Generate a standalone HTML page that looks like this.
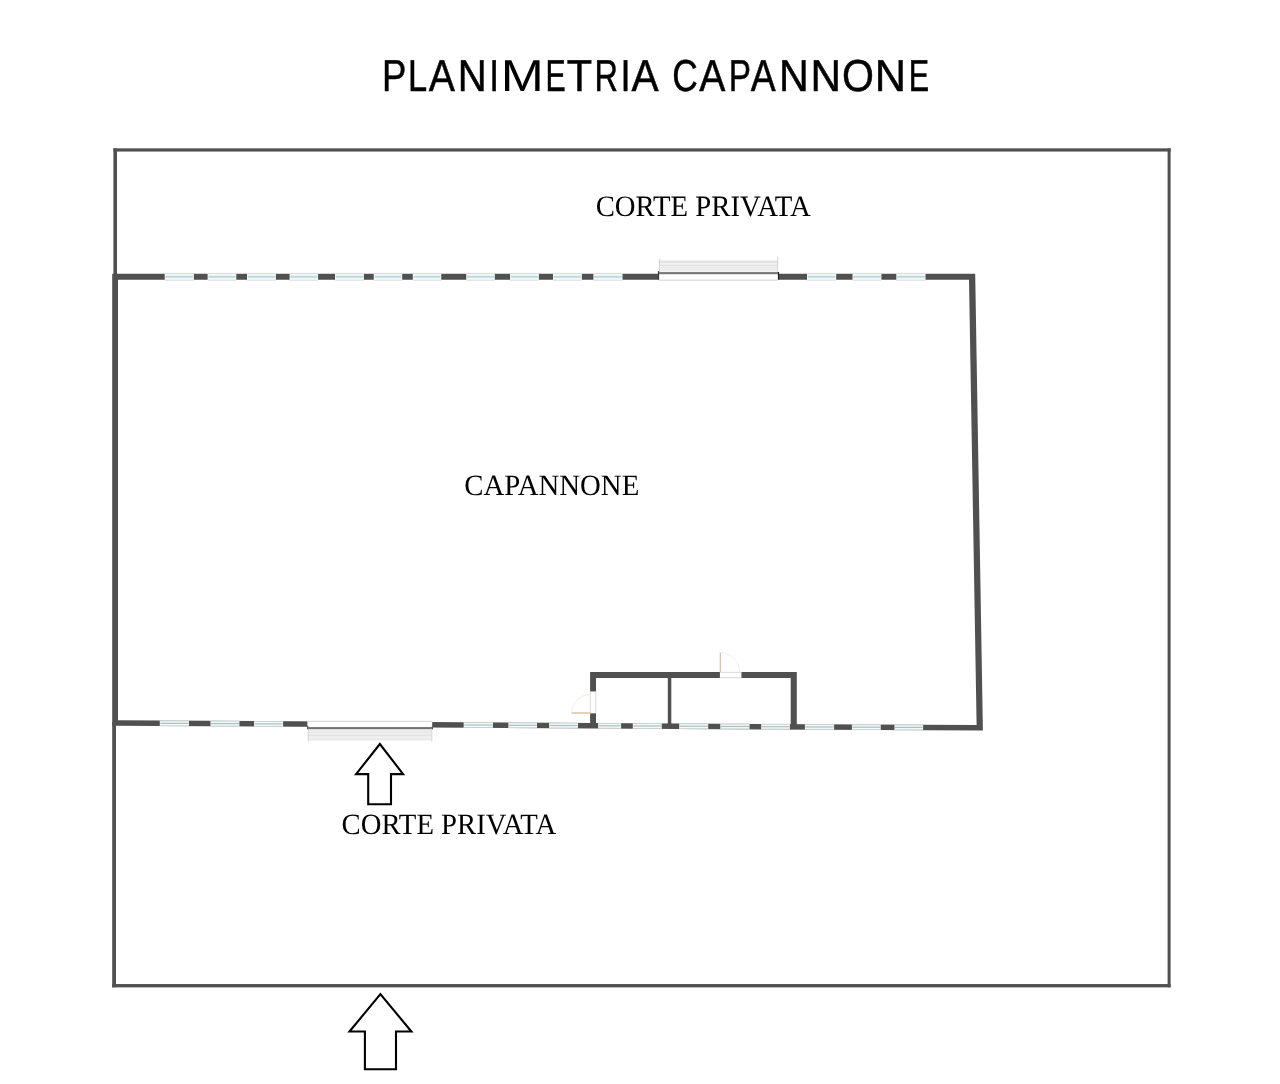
<!DOCTYPE html>
<html><head><meta charset="utf-8"><title>Planimetria Capannone</title>
<style>
html,body{margin:0;padding:0;background:#ffffff;}
body{width:1280px;height:1084px;overflow:hidden;font-family:"Liberation Sans",sans-serif;}
svg{display:block;position:absolute;left:0;top:0;}
text{text-rendering:geometricPrecision;}
svg{will-change:transform;}
</style></head>
<body>
<svg width="1280" height="1084" viewBox="0 0 1280 1084">
<rect x="113.4" y="148.35" width="1057.3" height="3.2" fill="#505050"/>
<rect x="1167.6" y="148.35" width="3.0" height="839" fill="#505050"/>
<rect x="112.2" y="984.05" width="1058.5" height="3.3" fill="#505050"/>
<rect x="113.4" y="148.35" width="3.6" height="127" fill="#505050"/>
<rect x="112.2" y="722" width="3.8" height="265.3" fill="#505050"/>
<path d="M112.2,273.7 L975.2,273.7 L982.9,730.6 L112.2,725.8 Z M118.0,279.8 L969.0,279.8 L976.6,725.1 L118.0,720.2 Z" fill="#505050" fill-rule="evenodd"/>
<rect x="164.70" y="272.90" width="29.20" height="7.70" fill="#f1fafa"/>
<rect x="164.70" y="272.90" width="29.20" height="0.85" fill="#d6d8d8"/>
<rect x="164.70" y="279.75" width="29.20" height="0.85" fill="#d8dada"/>
<rect x="165.50" y="275.85" width="27.60" height="1.9" fill="#c3d6d8"/>
<rect x="207.60" y="272.90" width="28.70" height="7.70" fill="#f1fafa"/>
<rect x="207.60" y="272.90" width="28.70" height="0.85" fill="#d6d8d8"/>
<rect x="207.60" y="279.75" width="28.70" height="0.85" fill="#d8dada"/>
<rect x="208.40" y="275.85" width="27.10" height="1.9" fill="#c3d6d8"/>
<rect x="247.00" y="272.90" width="28.90" height="7.70" fill="#f1fafa"/>
<rect x="247.00" y="272.90" width="28.90" height="0.85" fill="#d6d8d8"/>
<rect x="247.00" y="279.75" width="28.90" height="0.85" fill="#d8dada"/>
<rect x="247.80" y="275.85" width="27.30" height="1.9" fill="#c3d6d8"/>
<rect x="289.60" y="272.90" width="28.50" height="7.70" fill="#f1fafa"/>
<rect x="289.60" y="272.90" width="28.50" height="0.85" fill="#d6d8d8"/>
<rect x="289.60" y="279.75" width="28.50" height="0.85" fill="#d8dada"/>
<rect x="290.40" y="275.85" width="26.90" height="1.9" fill="#c3d6d8"/>
<rect x="335.00" y="272.90" width="28.90" height="7.70" fill="#f1fafa"/>
<rect x="335.00" y="272.90" width="28.90" height="0.85" fill="#d6d8d8"/>
<rect x="335.00" y="279.75" width="28.90" height="0.85" fill="#d8dada"/>
<rect x="335.80" y="275.85" width="27.30" height="1.9" fill="#c3d6d8"/>
<rect x="373.75" y="272.90" width="28.45" height="7.70" fill="#f1fafa"/>
<rect x="373.75" y="272.90" width="28.45" height="0.85" fill="#d6d8d8"/>
<rect x="373.75" y="279.75" width="28.45" height="0.85" fill="#d8dada"/>
<rect x="374.55" y="275.85" width="26.85" height="1.9" fill="#c3d6d8"/>
<rect x="412.80" y="272.90" width="28.45" height="7.70" fill="#f1fafa"/>
<rect x="412.80" y="272.90" width="28.45" height="0.85" fill="#d6d8d8"/>
<rect x="412.80" y="279.75" width="28.45" height="0.85" fill="#d8dada"/>
<rect x="413.60" y="275.85" width="26.85" height="1.9" fill="#c3d6d8"/>
<rect x="466.25" y="272.90" width="28.55" height="7.70" fill="#f1fafa"/>
<rect x="466.25" y="272.90" width="28.55" height="0.85" fill="#d6d8d8"/>
<rect x="466.25" y="279.75" width="28.55" height="0.85" fill="#d8dada"/>
<rect x="467.05" y="275.85" width="26.95" height="1.9" fill="#c3d6d8"/>
<rect x="510.00" y="272.90" width="28.90" height="7.70" fill="#f1fafa"/>
<rect x="510.00" y="272.90" width="28.90" height="0.85" fill="#d6d8d8"/>
<rect x="510.00" y="279.75" width="28.90" height="0.85" fill="#d8dada"/>
<rect x="510.80" y="275.85" width="27.30" height="1.9" fill="#c3d6d8"/>
<rect x="553.00" y="272.90" width="28.90" height="7.70" fill="#f1fafa"/>
<rect x="553.00" y="272.90" width="28.90" height="0.85" fill="#d6d8d8"/>
<rect x="553.00" y="279.75" width="28.90" height="0.85" fill="#d8dada"/>
<rect x="553.80" y="275.85" width="27.30" height="1.9" fill="#c3d6d8"/>
<rect x="593.40" y="272.90" width="29.10" height="7.70" fill="#f1fafa"/>
<rect x="593.40" y="272.90" width="29.10" height="0.85" fill="#d6d8d8"/>
<rect x="593.40" y="279.75" width="29.10" height="0.85" fill="#d8dada"/>
<rect x="594.20" y="275.85" width="27.50" height="1.9" fill="#c3d6d8"/>
<rect x="807.00" y="272.90" width="29.20" height="7.70" fill="#f1fafa"/>
<rect x="807.00" y="272.90" width="29.20" height="0.85" fill="#d6d8d8"/>
<rect x="807.00" y="279.75" width="29.20" height="0.85" fill="#d8dada"/>
<rect x="807.80" y="275.85" width="27.60" height="1.9" fill="#c3d6d8"/>
<rect x="852.50" y="272.90" width="28.90" height="7.70" fill="#f1fafa"/>
<rect x="852.50" y="272.90" width="28.90" height="0.85" fill="#d6d8d8"/>
<rect x="852.50" y="279.75" width="28.90" height="0.85" fill="#d8dada"/>
<rect x="853.30" y="275.85" width="27.30" height="1.9" fill="#c3d6d8"/>
<rect x="896.30" y="272.90" width="29.20" height="7.70" fill="#f1fafa"/>
<rect x="896.30" y="272.90" width="29.20" height="0.85" fill="#d6d8d8"/>
<rect x="896.30" y="279.75" width="29.20" height="0.85" fill="#d8dada"/>
<rect x="897.10" y="275.85" width="27.60" height="1.9" fill="#c3d6d8"/>
<rect x="159.80" y="720.45" width="29.20" height="5.79" fill="#f2fbfb"/>
<rect x="159.80" y="720.45" width="29.20" height="0.9" fill="#c9cdcd"/>
<rect x="159.80" y="725.34" width="29.20" height="0.9" fill="#c9cdcd"/>
<rect x="160.30" y="722.75" width="28.20" height="1.2" fill="#a9bfc2"/>
<rect x="210.50" y="720.73" width="28.90" height="5.79" fill="#f2fbfb"/>
<rect x="210.50" y="720.73" width="28.90" height="0.9" fill="#c9cdcd"/>
<rect x="210.50" y="725.62" width="28.90" height="0.9" fill="#c9cdcd"/>
<rect x="211.00" y="723.03" width="27.90" height="1.2" fill="#a9bfc2"/>
<rect x="254.00" y="720.98" width="29.10" height="5.78" fill="#f2fbfb"/>
<rect x="254.00" y="720.98" width="29.10" height="0.9" fill="#c9cdcd"/>
<rect x="254.00" y="725.86" width="29.10" height="0.9" fill="#c9cdcd"/>
<rect x="254.50" y="723.27" width="28.10" height="1.2" fill="#a9bfc2"/>
<rect x="463.70" y="722.16" width="29.20" height="5.76" fill="#f2fbfb"/>
<rect x="463.70" y="722.16" width="29.20" height="0.9" fill="#c9cdcd"/>
<rect x="463.70" y="727.02" width="29.20" height="0.9" fill="#c9cdcd"/>
<rect x="464.20" y="724.44" width="28.20" height="1.2" fill="#a9bfc2"/>
<rect x="508.40" y="722.41" width="28.60" height="5.75" fill="#f2fbfb"/>
<rect x="508.40" y="722.41" width="28.60" height="0.9" fill="#c9cdcd"/>
<rect x="508.40" y="727.26" width="28.60" height="0.9" fill="#c9cdcd"/>
<rect x="508.90" y="724.69" width="27.60" height="1.2" fill="#a9bfc2"/>
<rect x="549.10" y="722.64" width="28.90" height="5.75" fill="#f2fbfb"/>
<rect x="549.10" y="722.64" width="28.90" height="0.9" fill="#c9cdcd"/>
<rect x="549.10" y="727.49" width="28.90" height="0.9" fill="#c9cdcd"/>
<rect x="549.60" y="724.91" width="27.90" height="1.2" fill="#a9bfc2"/>
<rect x="598.10" y="722.90" width="23.00" height="5.74" fill="#f2fbfb"/>
<rect x="598.10" y="722.90" width="23.00" height="0.9" fill="#c9cdcd"/>
<rect x="598.10" y="727.74" width="23.00" height="0.9" fill="#c9cdcd"/>
<rect x="598.60" y="725.17" width="22.00" height="1.2" fill="#a9bfc2"/>
<rect x="632.80" y="723.11" width="29.00" height="5.74" fill="#f2fbfb"/>
<rect x="632.80" y="723.11" width="29.00" height="0.9" fill="#c9cdcd"/>
<rect x="632.80" y="727.95" width="29.00" height="0.9" fill="#c9cdcd"/>
<rect x="633.30" y="725.38" width="28.00" height="1.2" fill="#a9bfc2"/>
<rect x="679.20" y="723.37" width="29.00" height="5.73" fill="#f2fbfb"/>
<rect x="679.20" y="723.37" width="29.00" height="0.9" fill="#c9cdcd"/>
<rect x="679.20" y="728.21" width="29.00" height="0.9" fill="#c9cdcd"/>
<rect x="679.70" y="725.64" width="28.00" height="1.2" fill="#a9bfc2"/>
<rect x="720.30" y="723.60" width="29.20" height="5.73" fill="#f2fbfb"/>
<rect x="720.30" y="723.60" width="29.20" height="0.9" fill="#c9cdcd"/>
<rect x="720.30" y="728.43" width="29.20" height="0.9" fill="#c9cdcd"/>
<rect x="720.80" y="725.87" width="28.20" height="1.2" fill="#a9bfc2"/>
<rect x="761.20" y="723.83" width="28.70" height="5.72" fill="#f2fbfb"/>
<rect x="761.20" y="723.83" width="28.70" height="0.9" fill="#c9cdcd"/>
<rect x="761.20" y="728.66" width="28.70" height="0.9" fill="#c9cdcd"/>
<rect x="761.70" y="726.10" width="27.70" height="1.2" fill="#a9bfc2"/>
<rect x="804.90" y="724.08" width="29.20" height="5.72" fill="#f2fbfb"/>
<rect x="804.90" y="724.08" width="29.20" height="0.9" fill="#c9cdcd"/>
<rect x="804.90" y="728.90" width="29.20" height="0.9" fill="#c9cdcd"/>
<rect x="805.40" y="726.34" width="28.20" height="1.2" fill="#a9bfc2"/>
<rect x="851.90" y="724.34" width="28.80" height="5.71" fill="#f2fbfb"/>
<rect x="851.90" y="724.34" width="28.80" height="0.9" fill="#c9cdcd"/>
<rect x="851.90" y="729.16" width="28.80" height="0.9" fill="#c9cdcd"/>
<rect x="852.40" y="726.60" width="27.80" height="1.2" fill="#a9bfc2"/>
<rect x="894.50" y="724.58" width="28.60" height="5.71" fill="#f2fbfb"/>
<rect x="894.50" y="724.58" width="28.60" height="0.9" fill="#c9cdcd"/>
<rect x="894.50" y="729.39" width="28.60" height="0.9" fill="#c9cdcd"/>
<rect x="895.00" y="726.84" width="27.60" height="1.2" fill="#a9bfc2"/>
<rect x="658.4" y="273.3" width="120" height="7.2" fill="#fdfdfd"/>
<rect x="659" y="279.6" width="118.8" height="1.3" fill="#dfdfdf"/>
<rect x="659.3" y="260.4" width="118.3" height="11.8" fill="#f2f2f2"/>
<rect x="659.3" y="260.8" width="118.3" height="2.2" fill="#e3e3e3"/>
<rect x="659.3" y="264.8" width="118.3" height="1.2" fill="#e2e2e2"/>
<rect x="659.3" y="267.2" width="118.3" height="0.8" fill="#e7e7e7"/>
<rect x="659.3" y="269.1" width="118.3" height="1.0" fill="#e6e6e6"/>
<rect x="658.6" y="272.1" width="119.6" height="2.1" fill="#767676"/>
<rect x="658.9" y="258.6" width="0.9" height="13.5" fill="#cfcfcf"/>
<rect x="777.2" y="256.6" width="0.9" height="15.5" fill="#cfcfcf"/>
<rect x="657.9" y="271.2" width="1.2" height="8.6" fill="#3a3a3a"/>
<rect x="777.9" y="272" width="1.2" height="7.7" fill="#1e1e1e"/>
<rect x="307.4" y="720.6" width="124.8" height="7" fill="#fdfdfd"/>
<rect x="307.6" y="720.8" width="124.4" height="1.2" fill="#dadada"/>
<rect x="308" y="729.1" width="123.6" height="11.5" fill="#efefef"/>
<rect x="308" y="729.9" width="123.6" height="0.8" fill="#e6e6e6"/>
<rect x="308" y="731.9" width="123.6" height="0.8" fill="#e6e6e6"/>
<rect x="308" y="734.7" width="123.6" height="1.3" fill="#e2e2e2"/>
<rect x="308" y="738.8" width="123.6" height="0.9" fill="#e6e6e6"/>
<rect x="307.4" y="727.1" width="125" height="2.0" fill="#707070"/>
<rect x="307.7" y="728.5" width="0.9" height="13" fill="#d2d2d2"/>
<rect x="431.4" y="728.5" width="0.9" height="13" fill="#d2d2d2"/>
<rect x="307.0" y="726" width="1.3" height="3.2" fill="#555"/>
<rect x="431.8" y="726.5" width="1.2" height="2.8" fill="#555"/>
<path d="M590.1,672.1 L796.8,672.1 L796.8,726 L790.7,726 L790.7,678 L596,678 L596,726 L590.1,726 Z" fill="#505050"/>
<rect x="667.8" y="677" width="3.5" height="49" fill="#505050"/>
<rect x="589.8" y="691.5" width="6.5" height="21.8" fill="#ffffff"/>
<rect x="589.9" y="691.5" width="0.8" height="21.8" fill="#d0d0d0"/>
<rect x="595.4" y="691.5" width="0.8" height="21.8" fill="#d0d0d0"/>
<path d="M571.1,713.0 L590.5,713.0" stroke="#dcc3a6" stroke-width="1.5" fill="none"/>
<path d="M571.8,713.0 A18.8,18.8 0 0 1 590.5,694.2" stroke="#efeee8" stroke-width="1" fill="none"/>
<rect x="719.9" y="671.8" width="21.5" height="6.5" fill="#ffffff"/>
<rect x="719.9" y="671.9" width="21.5" height="0.8" fill="#d0d0d0"/>
<rect x="719.9" y="677.4" width="21.5" height="0.8" fill="#d0d0d0"/>
<path d="M720.3,672 L720.3,652.6" stroke="#cdb7a4" stroke-width="1.1" fill="none"/>
<path d="M720.3,652.6 A19.4,19.4 0 0 1 739.7,672" stroke="#eeede8" stroke-width="1" fill="none"/>
<path d="M379.9,744 L356.1,774.1 L368.2,774.1 L368.2,804.2 L391,804.2 L391,774.1 L403.1,774.1 Z" fill="#ffffff" stroke="#000" stroke-width="2.1" stroke-linejoin="miter" stroke-miterlimit="10"/>
<path d="M380.4,994.1 L349.5,1031.5 L364.9,1031.5 L364.9,1069.2 L396,1069.2 L396,1031.5 L411.4,1031.5 Z" fill="#ffffff" stroke="#000" stroke-width="2.1" stroke-linejoin="miter" stroke-miterlimit="10"/>
<text transform="translate(595.65,215.80) scale(0.9709,1)" font-family="Liberation Serif" font-size="29.62" fill="#000">CORTE PRIVATA</text>
<text transform="translate(464.25,494.70) scale(0.9776,1)" font-family="Liberation Serif" font-size="29.47" fill="#000">CAPANNONE</text>
<text transform="translate(341.60,833.70) scale(0.9734,1)" font-family="Liberation Serif" font-size="29.47" fill="#000">CORTE PRIVATA</text>
<text transform="translate(381.91,91.05) scale(0.8153,1)" font-family="Liberation Sans" font-size="44.80" fill="#000" stroke="#000" stroke-width="0.5">P</text>
<text transform="translate(408.08,91.05) scale(0.7686,1)" font-family="Liberation Sans" font-size="44.80" fill="#000" stroke="#000" stroke-width="0.5">L</text>
<text transform="translate(428.73,91.05) scale(0.8743,1)" font-family="Liberation Sans" font-size="44.80" fill="#000" stroke="#000" stroke-width="0.5">A</text>
<text transform="translate(457.82,91.05) scale(0.8949,1)" font-family="Liberation Sans" font-size="44.80" fill="#000" stroke="#000" stroke-width="0.5">N</text>
<text transform="translate(489.28,91.05) scale(0.7843,1)" font-family="Liberation Sans" font-size="44.80" fill="#000" stroke="#000" stroke-width="0.5">I</text>
<text transform="translate(500.64,91.05) scale(1.1537,1)" font-family="Liberation Sans" font-size="44.80" fill="#000" stroke="#000" stroke-width="0.0">M</text>
<text transform="translate(545.52,91.05) scale(0.6768,1)" font-family="Liberation Sans" font-size="44.80" fill="#000" stroke="#000" stroke-width="0.5">E</text>
<text transform="translate(566.79,91.05) scale(0.9264,1)" font-family="Liberation Sans" font-size="44.80" fill="#000" stroke="#000" stroke-width="0.5">T</text>
<text transform="translate(594.54,91.05) scale(0.7252,1)" font-family="Liberation Sans" font-size="44.80" fill="#000" stroke="#000" stroke-width="0.5">R</text>
<text transform="translate(620.38,91.05) scale(0.8084,1)" font-family="Liberation Sans" font-size="44.80" fill="#000" stroke="#000" stroke-width="0.5">I</text>
<text transform="translate(631.62,91.05) scale(0.9080,1)" font-family="Liberation Sans" font-size="44.80" fill="#000" stroke="#000" stroke-width="0.5">A</text>
<text transform="translate(672.26,91.05) scale(0.7887,1)" font-family="Liberation Sans" font-size="44.80" fill="#000" stroke="#000" stroke-width="0.5">C</text>
<text transform="translate(699.13,91.05) scale(0.8743,1)" font-family="Liberation Sans" font-size="44.80" fill="#000" stroke="#000" stroke-width="0.5">A</text>
<text transform="translate(728.68,91.05) scale(0.7440,1)" font-family="Liberation Sans" font-size="44.80" fill="#000" stroke="#000" stroke-width="0.5">P</text>
<text transform="translate(750.63,91.05) scale(0.8339,1)" font-family="Liberation Sans" font-size="44.80" fill="#000" stroke="#000" stroke-width="0.5">A</text>
<text transform="translate(779.03,91.05) scale(0.9189,1)" font-family="Liberation Sans" font-size="44.80" fill="#000" stroke="#000" stroke-width="0.5">N</text>
<text transform="translate(810.44,91.05) scale(0.9429,1)" font-family="Liberation Sans" font-size="44.80" fill="#000" stroke="#000" stroke-width="0.5">N</text>
<text transform="translate(841.97,91.05) scale(0.9174,1)" font-family="Liberation Sans" font-size="44.80" fill="#000" stroke="#000" stroke-width="0.5">O</text>
<text transform="translate(874.85,91.05) scale(0.9669,1)" font-family="Liberation Sans" font-size="44.80" fill="#000" stroke="#000" stroke-width="0.5">N</text>
<text transform="translate(908.71,91.05) scale(0.6810,1)" font-family="Liberation Sans" font-size="44.80" fill="#000" stroke="#000" stroke-width="0.5">E</text>
</svg>
</body></html>
